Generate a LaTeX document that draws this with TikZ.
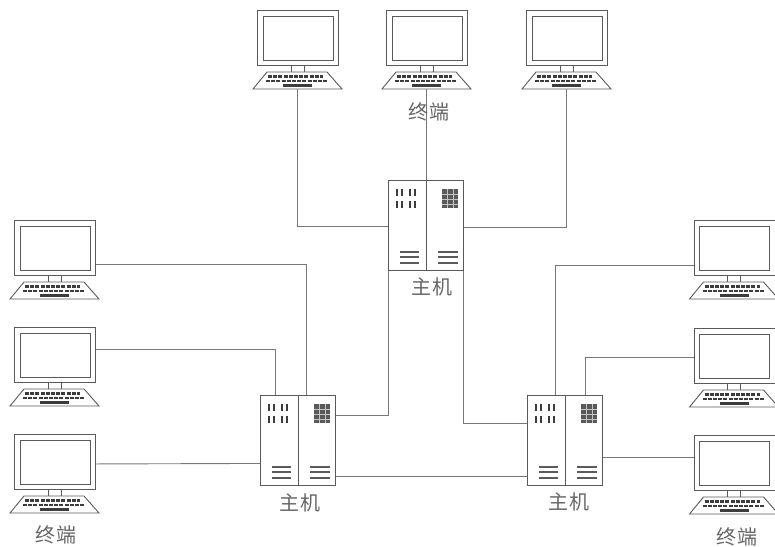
\documentclass[tikz,border=0pt]{standalone}
\usepackage{fontspec}
\newfontfamily\cjk[LetterSpace=5]{Noto Sans CJK SC}
\usetikzlibrary{positioning,calc}
\definecolor{wire}{HTML}{777777}
\definecolor{ink}{HTML}{5A5A5A}
\definecolor{keys}{HTML}{3C3C3C}
\definecolor{txt}{HTML}{666666}
\tikzset{
  link/.style={draw=wire, line width=.9pt},
  outline/.style={draw=ink, line width=.9pt, fill=none, inner sep=0pt},
  caption/.style={font=\cjk\fontsize{20}{20}\selectfont, text=txt, inner sep=0pt},
  keyrow/.style={draw=keys, line width=2.6pt, dash pattern=on 4pt off 1.2pt},
  pics/terminal/.style={code={
    \node[outline, anchor=north west, minimum width=81pt, minimum height=55pt] (mon) at (0,0) {};
    \draw[draw=ink, line width=.8pt] (6,6) rectangle (76,50);
    \draw[draw=ink, line width=.8pt] (34,55) -- (34,62) (47,55) -- (47,62);
    \draw[draw=ink, line width=.9pt] (10,62) -- (70,62) -- (85,79) -- (-4,79) -- cycle;
    \draw[keyrow] (11,66.5) -- (66,66.5);
    \draw[keyrow] (9,71) -- (70,71);
    \draw[draw=keys, line width=2.2pt] (26,75.5) -- (55,75.5);
    \coordinate (kb) at (40,79);
  }},
  pics/hostbox/.style={code={
    \node[outline, anchor=north west, minimum width=75pt, minimum height=90pt] (case) at (0,0) {};
    \draw[draw=ink, line width=.9pt] (case.north) ++(.5,0) -- ++(0,90);
    \foreach \x in {9,14,22,27} {
      \draw[draw=keys, line width=2.6pt] (\x,9) -- (\x,16) (\x,21) -- (\x,28);
    }
    \fill[keys!85] (54,9) rectangle (70,28);
    \foreach \y in {14,19,24} { \draw[white!70!keys, line width=.4pt] (54,\y) -- (70,\y); }
    \foreach \x in {59,65} { \draw[white!70!keys, line width=.4pt] (\x,9) -- (\x,28); }
    \foreach \y in {72,77,83} {
      \draw[draw=ink, line width=1.1pt] (12,\y) -- (31,\y) (50,\y) -- (70,\y);
    }
  }}
}
\begin{document}
\begin{tikzpicture}[x=1pt,y=-1pt]
  \useasboundingbox (0,0) rectangle (775,546);
  \pic (ta-) at (257,10) {terminal};
  \pic (tb-) at (386,10) {terminal};
  \pic (tc-) at (526,10) {terminal};
  \pic (ld-) at (14,220) {terminal};
  \pic (le-) at (14,327) {terminal};
  \pic (lf-) at (14,434) {terminal};
  \pic (rd-) at (693.5,220) {terminal};
  \pic (re-) at (693.5,328) {terminal};
  \pic (rf-) at (693.5,435) {terminal};

  \pic (hc-) at (388,180) {hostbox};
  \pic (hl-) at (260,395) {hostbox};
  \pic (hr-) at (527,395) {hostbox};

  % top row to the middle host
  \draw[link] (ta-kb) |- ([yshift=-1pt]hc-case.west);
  \draw[link] (tb-kb) -- (tb-kb |- hc-case.north);
  \draw[link] (tc-kb) |- ([yshift=-2pt]hc-case.east);

  % left terminals
  \draw[link] ([yshift=-16.5pt]ld-mon.east) -| ([xshift=8pt]hl-case.north);
  \draw[link] ([yshift=5.5pt]le-mon.east) -| ([xshift=-22.5pt]hl-case.north);
  \draw[link] ([yshift=-2pt]lf-mon.east) -- ([yshift=-23pt]hl-case.west);

  % right terminals
  \draw[link] ([yshift=-17.5pt]rd-mon.west) -| ([xshift=-9.5pt]hr-case.north);
  \draw[link] ([yshift=-1.5pt]re-mon.west) -| ([xshift=20.5pt]hr-case.north);
  \draw[link] ([yshift=5.5pt]rf-mon.west) -- ([yshift=-17pt]hr-case.east);

  % between hosts
  \draw[link] (hc-case.south west) |- ([yshift=25pt]hl-case.east);
  \draw[link] (hc-case.south east) |- ([yshift=17pt]hr-case.west);
  \draw[link] ([yshift=-36pt]hl-case.east) -- ([yshift=-36pt]hr-case.west);

  \node[caption] (capta) at (429,112) {终端};
  \node[caption] (capb) at (56,535) {终端};
  \node[caption] (capc) at (737,537) {终端};
  \node[caption] (hostc) at (432,287) {主机};
  \node[caption] (hostl) at (300,503) {主机};
  \node[caption] (hostr) at (569,502) {主机};
\end{tikzpicture}
\end{document}
